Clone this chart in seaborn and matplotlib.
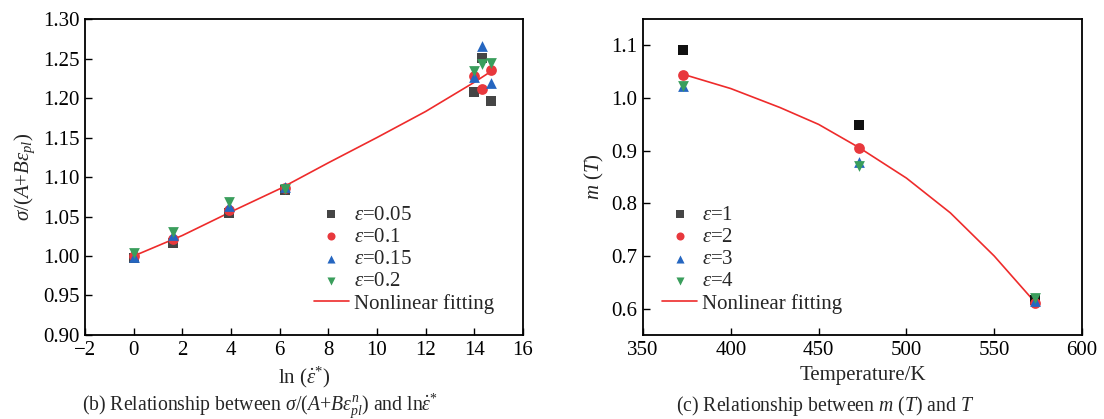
import pandas as pd
import matplotlib
matplotlib.use("Agg")
import matplotlib.pyplot as plt
import seaborn as sns

# Panel (b): sigma/(A+B eps^n) vs ln(strain rate)
ln_rate = [0, 1.6, 3.9, 6.2, 14.0, 14.3, 14.7]
b_eps005 = [0.997, 1.017, 1.054, 1.083, 1.208, 1.251, 1.196]
b_eps010 = [1.000, 1.021, 1.058, 1.086, 1.228, 1.212, 1.236]
b_eps015 = [0.999, 1.027, 1.063, 1.087, 1.227, 1.266, 1.219]
b_eps020 = [1.004, 1.030, 1.069, 1.085, 1.234, 1.243, 1.244]
b_fit_x = [0, 2, 4, 6, 8, 10, 12, 14, 14.7]
b_fit_y = [1.000, 1.026, 1.056, 1.085, 1.118, 1.150, 1.183, 1.220, 1.234]
b_labels = [r"$\varepsilon$=0.05", r"$\varepsilon$=0.1", r"$\varepsilon$=0.15", r"$\varepsilon$=0.2"]

# Panel (c): m(T) vs temperature
temp = [373, 473, 573]
c_eps1 = [1.091, 0.948, 0.617]
c_eps2 = [1.043, 0.906, 0.610]
c_eps3 = [1.023, 0.879, 0.615]
c_eps4 = [1.023, 0.870, 0.620]
c_fit_x = [373, 400, 428, 450, 473, 500, 525, 550, 573]
c_fit_y = [1.045, 1.018, 0.982, 0.950, 0.906, 0.848, 0.782, 0.700, 0.613]
c_labels = [r"$\varepsilon$=1", r"$\varepsilon$=2", r"$\varepsilon$=3", r"$\varepsilon$=4"]

markers = ["s", "o", "^", "v"]
colors_b = ["#454545", "#e8383d", "#2566c0", "#3a9e5c"]
colors_c = ["#111111", "#e8383d", "#2566c0", "#3a9e5c"]
sizes = [46, 60, 60, 60]
fit_color = "#ee2b2b"
fs = 15

sns.set_theme(style="ticks")
plt.rcParams["font.family"] = ["Liberation Serif", "DejaVu Serif"]
plt.rcParams["mathtext.fontset"] = "custom"
plt.rcParams["mathtext.rm"] = "Liberation Serif"
plt.rcParams["mathtext.it"] = "Liberation Serif:italic"
plt.rcParams["mathtext.bf"] = "Liberation Serif:bold"

fig = plt.figure(figsize=(11.04, 4.19), dpi=100)
ax1 = fig.add_axes([0.077, 0.2005, 0.3967, 0.754])
ax2 = fig.add_axes([0.5824, 0.2005, 0.3977, 0.754])


def draw_panel(ax, x, series, labels, colors, fx, fy):
    for ys, lab, m, c, s in zip(series, labels, markers, colors, sizes):
        sns.scatterplot(x=x, y=ys, marker=m, color=c, s=s, linewidth=0,
                        label=lab, ax=ax, zorder=3)
    sns.lineplot(x=fx, y=fy, color=fit_color, linewidth=1.2,
                 label="Nonlinear fitting", ax=ax, zorder=2)
    for sp in ax.spines.values():
        sp.set_visible(True)
        sp.set_linewidth(1.3)
        sp.set_color("black")
    ax.tick_params(direction="in", length=5, width=1, labelsize=fs,
                   colors="black", pad=4)


draw_panel(ax1, ln_rate, [b_eps005, b_eps010, b_eps015, b_eps020],
           b_labels, colors_b, b_fit_x, b_fit_y)
ax1.set_xlim(-2, 16)
ax1.set_ylim(0.90, 1.30)
ax1.set_xticks(range(-2, 17, 2))
ax1.set_yticks([0.90, 0.95, 1.00, 1.05, 1.10, 1.15, 1.20, 1.25, 1.30])
ax1.set_yticklabels([f"{v:.2f}" for v in ax1.get_yticks()])
ax1.set_xlabel(r"ln ($\dot{\varepsilon}^{*}$)", fontsize=fs, labelpad=4)
ax1.set_ylabel(r"$\sigma$/($A$+$B\varepsilon_{pl}$)", fontsize=fs, labelpad=4)
ax1.legend(loc="upper left", bbox_to_anchor=(0.503, 0.437), frameon=False,
           fontsize=fs, handlelength=1.7, handletextpad=0.25,
           labelspacing=0.12, markerscale=0.75, borderaxespad=0)

draw_panel(ax2, temp, [c_eps1, c_eps2, c_eps3, c_eps4],
           c_labels, colors_c, c_fit_x, c_fit_y)
ax2.set_xlim(350, 600)
ax2.set_ylim(0.55, 1.15)
ax2.set_xticks(range(350, 601, 50))
ax2.set_yticks([0.6, 0.7, 0.8, 0.9, 1.0, 1.1])
ax2.set_yticklabels([f"{v:.1f}" for v in ax2.get_yticks()])
ax2.set_xlabel("Temperature/K", fontsize=fs, labelpad=5)
ax2.set_ylabel(r"$m$ ($T$)", fontsize=fs, labelpad=4)
leg2 = ax2.legend(loc="upper left", bbox_to_anchor=(0.024, 0.437), frameon=False,
                  fontsize=fs, handlelength=1.7, handletextpad=0.25,
                  labelspacing=0.12, markerscale=0.75, borderaxespad=0)
leg2.legend_handles[0].set_color("#454545")

fig.text(0.2355, 0.032,
         r"(b) Relationship between $\sigma$/($A$+$B\varepsilon_{pl}^{n}$) and ln$\dot{\varepsilon}^{*}$",
         ha="center", va="center", fontsize=14.2)
fig.text(0.747, 0.032, r"(c) Relationship between $m$ ($T$) and $T$",
         ha="center", va="center", fontsize=14.2)

fig.savefig("out.png", dpi=100)
